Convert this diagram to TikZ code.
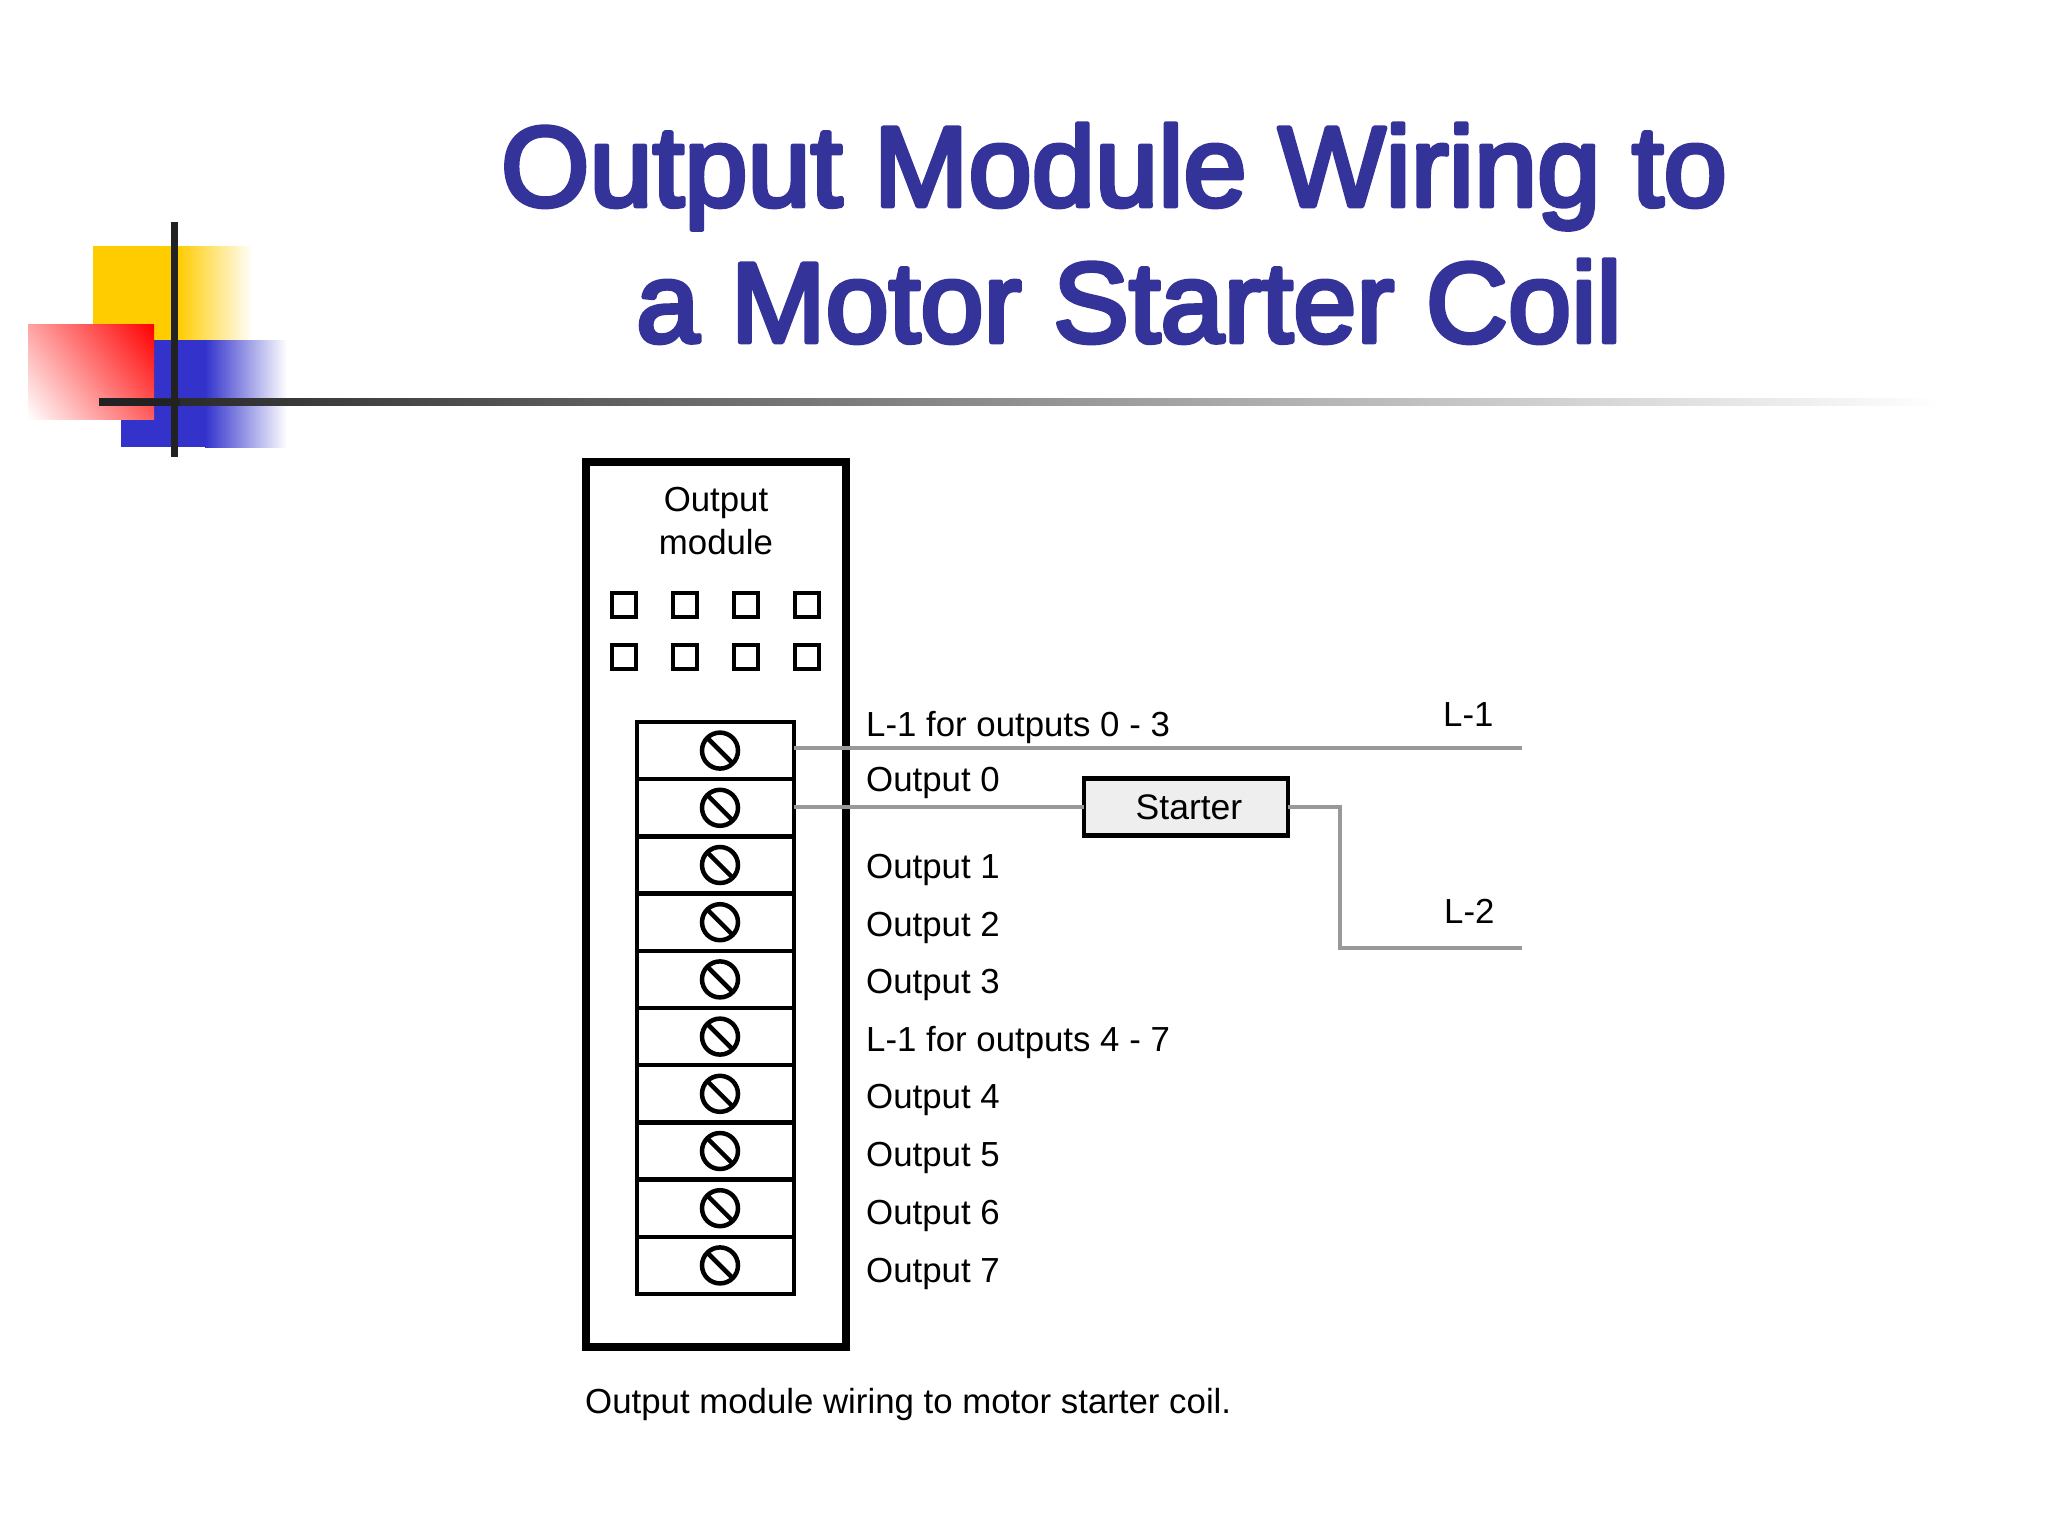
\documentclass[tikz,border=0pt]{standalone}
\usepackage{fontspec}
\setmainfont{Liberation Sans}
\newfontfamily\titlefont[FakeBold=4]{Liberation Sans}
\usepackage{tikz}
\usetikzlibrary{positioning}
\definecolor{titleblue}{HTML}{333399}
\definecolor{decoyellow}{HTML}{FFCC00}
\definecolor{decoblue}{HTML}{3333CC}
\definecolor{wiregray}{HTML}{999999}
\definecolor{rulegray}{HTML}{222222}
\definecolor{startergray}{HTML}{EEEEEE}
\pgfdeclarehorizontalshading{redfade}{100bp}{color(0bp)=(white);color(15bp)=(white);color(85bp)=(red);color(100bp)=(red)}

\begin{document}
\begin{tikzpicture}[x=1pt,y=-1pt]
\tikzstyle{titleline}=[text=titleblue,anchor=base,font=\titlefont\fontsize{113.7}{113.7}\selectfont]
\tikzstyle{label}=[anchor=base west,inner sep=0pt,font=\fontsize{34.8}{34.8}\selectfont]
\tikzstyle{modulebox}=[rectangle,draw,line width=8pt,outer sep=0pt,minimum width=260pt,minimum height=885pt]
\tikzstyle{led}=[rectangle,draw,line width=4.5pt,outer sep=0pt,minimum size=24pt]
\tikzstyle{terminal}=[rectangle,draw,line width=4.5pt,outer sep=0pt,minimum width=157pt,minimum height=57.2pt]
\tikzstyle{screw}=[circle,draw,line width=4.5pt,outer sep=0pt,inner sep=0pt,minimum size=36pt]
\tikzstyle{starterbox}=[rectangle,draw,fill=startergray,line width=4.5pt,outer sep=0pt,minimum width=204pt,minimum height=57pt,font=\fontsize{35.5}{35.5}\selectfont]
\tikzstyle{wire}=[wiregray,line width=4.5pt]
\useasboundingbox (0,0) rectangle (2048,1536);
\fill[decoyellow] (93,246) rectangle (178,340);
\shade[left color=decoyellow,right color=white] (178,246) rectangle (253,340);
\fill[decoblue] (121,340) rectangle (205,447);
\shade[left color=decoblue,right color=white] (205,340) rectangle (287,447);
\shade[shading=redfade,shading angle=37] (28,324) rectangle (154,419);
\shade[left color=rulegray,right color=white] (99,398.5) rectangle (1940,405.5);
\fill[rulegray] (99,398.5) rectangle (180,405.5);
\fill[rulegray] (170.5,222) rectangle (177.5,457);
\begin{scope}[line join=round]
\node[titleline] (title1) at (1114,206) {Output Module Wiring to};
\node[titleline] (title2) at (1129,342) {a Motor Starter Coil};
\end{scope}
\node[modulebox] (module) at (716,904.5) {};
\node[label,anchor=base] (modname1) at (716,511) {Output};
\node[label,anchor=base] (modname2) at (716,554) {module};
\foreach \i/\x in {0/624,1/685,2/746,3/807}{
\node[led] (ledtop\i) at (\x,605) {};
\node[led] (ledbot\i) at (\x,657) {};
}
\foreach \i in {0,...,9}{
\pgfmathsetmacro{\ty}{750.6+57.2*\i}
\node[terminal] (term\i) at (715.5,\ty) {};
\node[screw] (screw\i) at (720,\ty) {};
\draw[line width=4.5pt] (screw\i.135) -- (screw\i.-45);
}
\node[label] (l1out03) at (866,736) {L-1 for outputs 0 - 3};
\node[label] (out0) at (866,791) {Output 0};
\node[label] (out1) at (866,878) {Output 1};
\node[label] (out2) at (866,936) {Output 2};
\node[label] (out3) at (866,993) {Output 3};
\node[label] (l1out47) at (866,1051) {L-1 for outputs 4 - 7};
\node[label] (out4) at (866,1108) {Output 4};
\node[label] (out5) at (866,1166) {Output 5};
\node[label] (out6) at (866,1224) {Output 6};
\node[label] (out7) at (866,1282) {Output 7};
\node[label] (l1) at (1443,726) {L-1};
\node[label] (l2) at (1444,923) {L-2};
\node[starterbox] (starter) at (1186,807) {\hspace*{6pt}Starter};
\coordinate (l1end) at (1522,748);
\coordinate (l2end) at (1522,948);
\coordinate (l2bend) at (1340,948);
\draw[wire] (term0.east |- l1end) -- (l1end);
\draw[wire] (term1.east |- starter.west) -- (starter.west);
\draw[wire] (starter.east) -| (l2bend) -- (l2end);
\node[label] (caption) at (585,1413) {Output module wiring to motor starter coil.};
\end{tikzpicture}
\end{document}
